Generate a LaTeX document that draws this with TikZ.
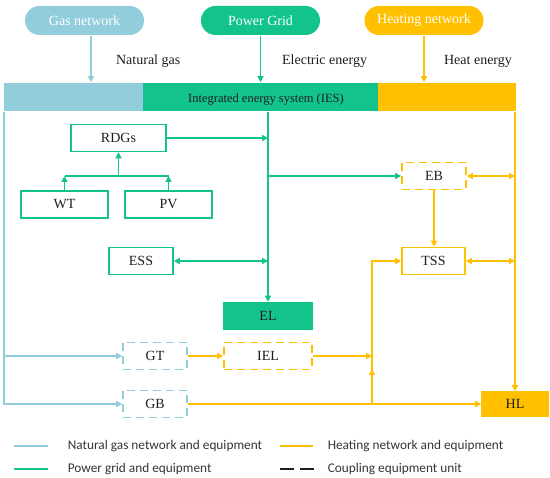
\documentclass[tikz,border=0pt]{standalone}
\usepackage{fontspec}
\setmainfont{Liberation Serif}
\newfontfamily\legendfont{Carlito}
\usetikzlibrary{positioning,arrows.meta}
\definecolor{gasblue}{RGB}{146,205,220}
\definecolor{gridgreen}{RGB}{18,196,140}
\definecolor{heatorange}{RGB}{255,192,0}
\definecolor{inkgray}{RGB}{30,30,30}

\begin{document}
\begin{tikzpicture}[x=1pt,y=-1pt,>={Triangle[length=6pt,width=6pt]},
  line width=1.6pt,font=\fontsize{14}{16}\selectfont,text=inkgray,
  pill/.style={rounded corners=14.5pt,minimum width=119pt,minimum height=29pt,text=white,inner sep=0pt},
  unit/.style={draw,minimum height=27pt,inner sep=0pt},
  coupled/.style={unit,dash pattern=on 8pt off 5pt},
  bar/.style={minimum height=28pt,inner sep=0pt},
  legend/.style={font=\legendfont\fontsize{13.3}{15}\selectfont,text=inkgray!90,anchor=west,inner sep=0pt}]
\useasboundingbox (0,0) rectangle (550,478);

\node[pill,fill=gasblue] (gasnet) at (84.5,20.5) {Gas network};
\node[pill,fill=gridgreen] (grid) at (260.5,20.5) {Power Grid};
\node[pill,fill=heatorange] (heatnet) at (424,20.5) {Heating network};
\node[anchor=west] (gaslbl) at (112,61) {Natural gas};
\node[anchor=west] (elelbl) at (278,61) {Electric energy};
\node[anchor=west] (heatlbl) at (440,61) {Heat energy};

\node[bar,fill=gasblue,minimum width=139pt] (iesgas) at (73.5,97) {};
\node[bar,fill=gridgreen,minimum width=235pt] (iesgrid) at (260.5,97) {};
\node[bar,fill=heatorange,minimum width=138pt] (iesheat) at (447,97) {};
\node[font=\fontsize{12.5}{14}\selectfont] (iestxt) at (266,99.5) {Integrated energy system (IES)};

\node[unit,draw=gridgreen,minimum width=95pt] (rdgs) at (118.5,138) {RDGs};
\node[unit,draw=gridgreen,minimum width=87pt] (wt) at (64.5,204.5) {WT};
\node[unit,draw=gridgreen,minimum width=87pt] (pv) at (168.5,204.5) {PV};
\node[unit,draw=gridgreen,minimum width=64pt] (ess) at (141,261) {ESS};
\node[unit,draw=gridgreen,fill=gridgreen,minimum width=88pt] (el) at (268,316) {EL};

\node[coupled,draw=heatorange,minimum width=64pt] (eb) at (434,176) {EB};
\node[unit,draw=heatorange,minimum width=63pt] (tss) at (433.5,261) {TSS};
\node[coupled,draw=heatorange,minimum width=88pt] (iel) at (268,356) {IEL};
\node[unit,draw=heatorange,fill=heatorange,minimum width=66pt,minimum height=24pt] (hl) at (515,404) {HL};

\node[coupled,draw=gasblue,minimum width=64pt] (gt) at (155,356) {GT};
\node[coupled,draw=gasblue,minimum width=64pt] (gb) at (155,404) {GB};

\coordinate (join) at (118.5,176);
\coordinate (mix) at (372,404);

\draw[->,gasblue] ([xshift=6.5pt]gasnet.south) -- ([xshift=6.5pt]gasnet.south |- iesgas.north);
\draw[->,gridgreen] (grid.south) -- (grid.south |- iesgrid.north);
\draw[->,heatorange] (heatnet.south) -- (heatnet.south |- iesheat.north);

\draw[->,gasblue] ([xshift=1pt]iesgas.south west) |- (gb.west);
\draw[->,gasblue] ([xshift=1pt]iesgas.south west |- gt.west) -- (gt.west);

\draw[->,gridgreen] (el.north |- iesgrid.south) -- (el.north);
\draw[->,gridgreen] (rdgs.east) -- (rdgs.east -| el.north);
\draw[<->,gridgreen] (ess.east) -- (ess.east -| el.north);
\draw[->,gridgreen] (el.north |- eb.west) -- (eb.west);
\draw[->,gridgreen] (join) -- (rdgs.south);
\draw[gridgreen] (wt.north |- join) -- (pv.north |- join);
\draw[->,gridgreen] (wt.north) -- (wt.north |- join);
\draw[->,gridgreen] (pv.north) -- (pv.north |- join);

\draw[->,heatorange] (hl.north |- iesheat.south) -- (hl.north);
\draw[<->,heatorange] (eb.east) -- (eb.east -| hl.north);
\draw[<->,heatorange] (tss.east) -- (tss.east -| hl.north);
\draw[->,heatorange] (eb.south) -- (eb.south |- tss.north);
\draw[->,heatorange] (gt.east) -- (iel.west);
\draw[->,heatorange] (iel.east) -- (iel.east -| mix);
\draw[->,heatorange] (gb.east) -- (hl.west);
\draw[->,heatorange] (mix) |- (tss.west);
\draw[->,heatorange] (mix) -- ++(0,-35);

\draw[gasblue,line width=1.3pt] (14,446) -- (48,446);
\node[legend] (lgas) at (67,446) {Natural gas network and equipment};
\draw[heatorange,line width=1.3pt] (280,446) -- (313,446);
\node[legend] (lheat) at (327,446) {Heating network and equipment};
\draw[gridgreen,line width=1.3pt] (14,469) -- (48,469);
\node[legend] (lgrid) at (67,469) {Power grid and equipment};
\draw[inkgray,line width=1.3pt,dash pattern=on 14pt off 6pt] (280,469) -- (314,469);
\node[legend] (lcoup) at (327,469) {Coupling equipment unit};
\end{tikzpicture}
\end{document}
